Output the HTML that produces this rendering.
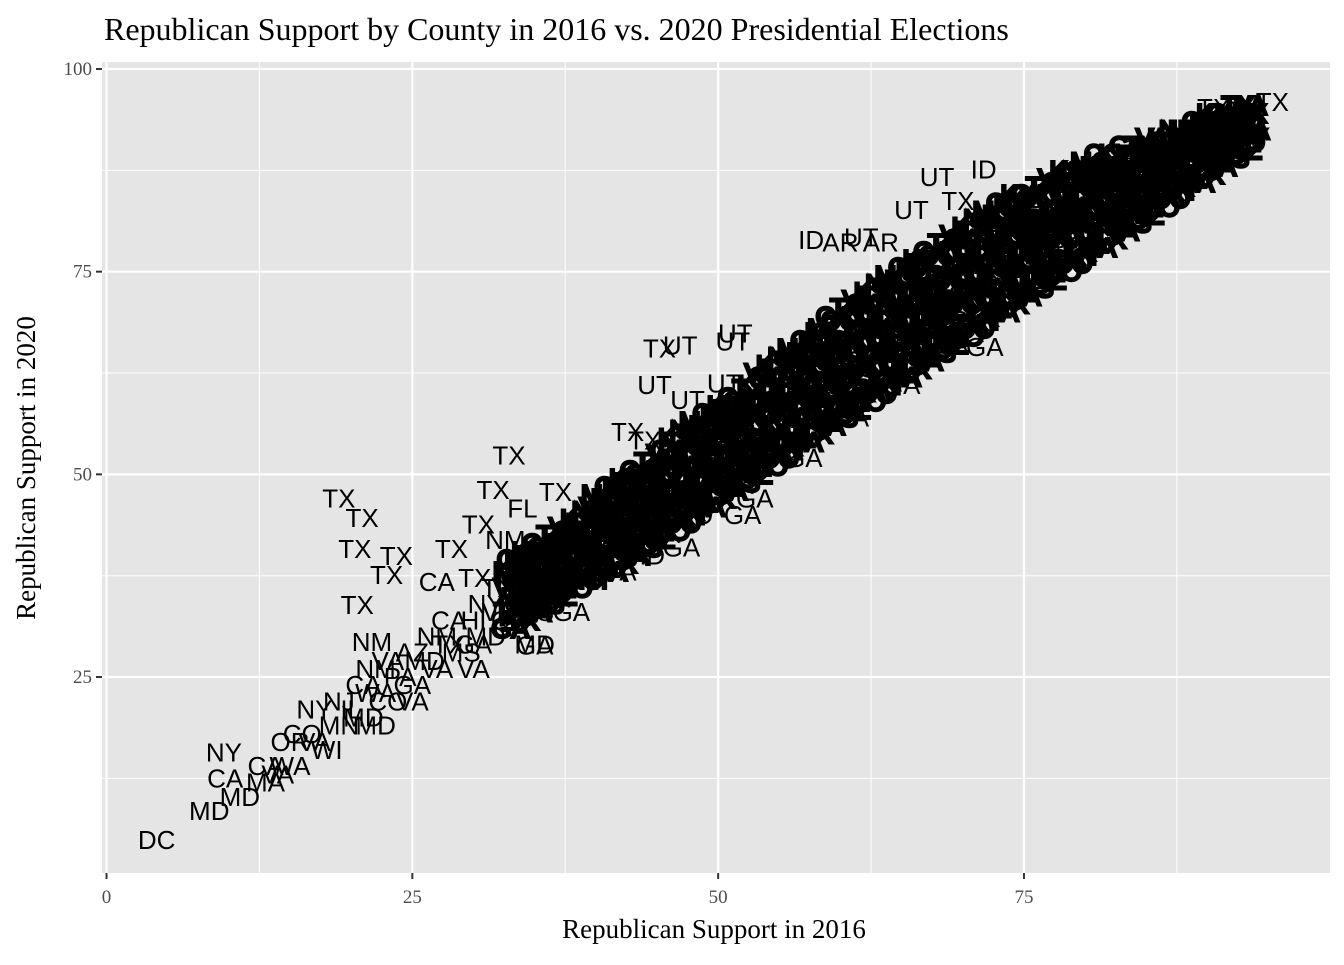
<!DOCTYPE html>
<html><head><meta charset="utf-8"><style>
body{margin:0;background:#fff}
svg text{font-family:"Liberation Sans",sans-serif}
</style></head><body>
<svg id="chart" width="1344" height="960" xmlns="http://www.w3.org/2000/svg">
<text x="104" y="40" font-size="32" fill="#000" style="font-family:'Liberation Serif',serif">Republican Support by County in 2016 vs. 2020 Presidential Elections</text>
<rect x="102" y="62" width="1228" height="811" fill="#e5e5e5"/>
<g id="grid"></g>
<g id="ticks"></g>
<g id="points"></g>
<text x="714" y="938" text-anchor="middle" font-size="27" style="font-family:'Liberation Serif',serif">Republican Support in 2016</text>
<text transform="translate(35,468) rotate(-90)" text-anchor="middle" font-size="27" style="font-family:'Liberation Serif',serif">Republican Support in 2020</text>
</svg>
<script>
const xTicks=[0,25,50,75];
const yTicks=[25,50,75,100];
const x2016=[4.1,8.4,9.6,9.7,10.9,19,20.9,20.3,23.7,22.9,20.5,28.2,32.9,31.6,36.7,30.4,30.1,42.6,44,45.2,34,32.6,27,21.7,46.9,51.4,51.2,44.8,47.5,50.5,67.9,71.7,65.8,69.6,57.6,60,63.3,61.7,95.3,90.5,93.2,35,71.8,
13,13,14,15,15,16,17,17,18,19,19,20,21,21,22,22,23,23,24,25,25,26,27,27,28,28,29,30,30,31,31,32,32,33,33,34,34,35,35,36,36,37,37,38,38,39,39,40,40,41,41,42,42,43,43,44,44,45,45,46,46,47,47,48,48,49,49,50,50,51,51,52,52,53,53,54,54,55,55,56,56,57,57,58,58,59,59,60,60,61,61,62,62,63,63,64,64,65,65,66,66,67,67,68,68,69,69,70,70,71,71,72,72,73,73,74,74,75,75,76,76,77,77,78,78,79,79,80,80,81,81,82,82,83,83,84,84,85,85,86,86,87,87,88,88,89,89,90,90,91,92,93,
42,47,53,57,61,65,69,73,78,83,48,38,35,30,25,22,52,63,75,88,44,50];
const y2020=[4.9,8.5,15.7,12.5,10.2,47,44.6,40.8,39.9,37.6,33.9,40.8,52.3,48.1,47.8,43.8,37.2,55.2,54.2,65.5,45.8,41.9,36.7,29.3,65.9,67.4,66.4,61,59.2,61.2,86.7,87.6,82.6,83.7,78.9,78.6,78.6,79.2,95.9,95.2,94.9,28.9,65.7,
14,12,13,17,14,18,17,21,16,19,22,21,24,20,26,23,22,27,25,28,24,27,30,26,29,32,28,32,29,34,30,33,36,32,35,34,37,36,33,38,35,40,36,39,42,38,41,43,40,42,45,44,41,46,43,45,48,47,44,49,46,48,51,50,47,52,49,51,55,53,50,54,57,55,52,57,60,56,53,58,61,60,56,61,63,62,58,63,66,64,60,65,68,66,62,68,65,69,66,70,67,71,68,72,69,74,70,75,72,76,73,78,74,79,75,80,76,80,77,81,78,82,79,83,80,84,81,85,82,86,83,87,84,87,85,88,85,89,86,89,87,90,88,90,91,91,89,92,90,91,93,92,
38,41,47,52,57,61,66,71,77,82,45,33,29,26,22,19,45,60,74,86,40,46];
const states=["DC","MD","NY","CA","MD","TX","TX","TX","TX","TX","TX","TX","TX","TX","TX","TX","TX","TX","TX","TX","FL","NM","CA","NM","UT","UT","UT","UT","UT","UT","UT","ID","UT","TX","ID","AR","AR","UT","TX","TX","TX","GA","GA",
"CA","MA","VA","OR","WA","CO","VA","NY","WI","MN","NJ","IL","CA","MD","NM","WA","CO","VA","PA","AZ","GA","MD","NM","VA","TX","CA","MS","HI","GA","NY","MD","VA","TX","CO","IL","GA","MN","WA","MS","OR","VA","NM","GA","CA","TX","CO","NC","NY","VA","PA","ID","GA","CO","NM","OH","MI","WI","GA","VA","TX","MD","CO","NC","IA","GA","PA","OH","GA","TX","MI","VA","WI","NM","MN","GA","IA","TX","OH","CO","PA","ID","NC","GA","MO","TX","KY","VA","IN","NE","OK","GA","KS","TX","MO","SC","ID","AL","UT","GA","TX","MS","KY","LA","OK","GA","TX","KS","ID","AR","NE","TN","UT","MO","TX","KS","IN","OK","WV","GA","KY","TN","TX","MO","NE","KS","MT","AL","TX","ND","OK","KY","WY","TX","NE","SD","TX","KS","TX","OK","MT","TX","NE","KY","WV","TX","KS","TX","NE","TX","MT","NE",
"CO","VA","GA","GA","GA","VA","GA","CA","TX","NE","VA","CO","GA","MD","VA","VA","MD","GA","KS","NE","GA","MD"];
const denseX=[33,34,35,36,37,38,39,40,41,42,43,44,45,46,47,48,49,50,51,52,53,54,55,56,57,58,59,60,61,62,63,64,65,66,67,68,69,70,71,72,73,74,75,76,77,78,79,80,81,82,83,84,85,86,87,88,89,90,91,92,93];
const denseY=[[31,33,36,38],[32,34,37,39],[33,35,38,40],[34,36,39,41],[35,37,40,42],[36,38,41,43],[37,39,42,44],[37,40,43,46],[38,41,44,47],[39,42,45,48],[40,43,46,49],[41,44,47,50],[42,45,48,51],[43,46,50,53],[44,47,51,54],[45,48,52,55],[46,49,53,56],[47,50,54,57],[48,51,55,58],[49,52,56,59],[50,53,57,61],[51,54,58,62],[52,56,59,63],[53,57,60,64],[54,58,62,65],[55,59,63,66],[56,60,64,68],[57,61,65,69],[58,62,66,70],[59,63,67,71],[60,64,68,72],[61,65,69,73],[62,66,70,74],[63,67,71,75],[64,68,72,76],[65,69,73,77],[66,70,74,78],[67,71,75,79],[68,72,76,80],[69,73,77,81],[70,74,78,82],[71,75,79,83],[72,76,80,83],[73,77,80,84],[74,78,81,85],[75,79,82,86],[76,80,83,86],[77,81,84,87],[78,82,85,88],[79,82,85,88],[80,83,86,89],[81,84,87,89],[82,85,87,90],[83,86,88,90],[84,86,89,91],[85,87,89,91],[86,88,90,92],[87,89,91,93],[88,90,92,93],[89,91,92,94],[90,91,93,94]];
const denseStates=["GA","TX","VA","KS","NE","MO","CO","KY"];
const NS="http://www.w3.org/2000/svg";
const xs=v=>106.5+v*12.233, ys=v=>879.7-v*8.107;
const grid=document.getElementById('grid'),ticks=document.getElementById('ticks'),pts=document.getElementById('points');
function line(g,x1,y1,x2,y2,c,w){const l=document.createElementNS(NS,'line');l.setAttribute('x1',x1);l.setAttribute('y1',y1);l.setAttribute('x2',x2);l.setAttribute('y2',y2);l.setAttribute('stroke',c);l.setAttribute('stroke-width',w);g.appendChild(l);return l;}
[12.5,37.5,62.5,87.5].forEach(v=>{const a=line(grid,xs(v),62,xs(v),873,'#fff',1);


const b=line(grid,102,ys(v),1330,ys(v),'#fff',1);

});
xTicks.forEach(v=>{const l=line(grid,xs(v),62,xs(v),873,'#fff',2.2);


line(ticks,xs(v),873,xs(v),879,'#333',2);
const t=document.createElementNS(NS,'text');t.setAttribute('x',xs(v));t.setAttribute('y',903);t.setAttribute('text-anchor','middle');t.setAttribute('font-size','19');t.setAttribute('fill','#4d4d4d');t.style.fontFamily="'Liberation Serif',serif";t.textContent=v;


ticks.appendChild(t);});
yTicks.forEach(v=>{const l=line(grid,102,ys(v),1330,ys(v),'#fff',2.2);


line(ticks,96,ys(v),102,ys(v),'#333',2);
const t=document.createElementNS(NS,'text');t.setAttribute('x',92);t.setAttribute('y',ys(v)+6);t.setAttribute('text-anchor','end');t.setAttribute('font-size','19');t.setAttribute('fill','#4d4d4d');t.style.fontFamily="'Liberation Serif',serif";t.textContent=v;


ticks.appendChild(t);});
function addLabel(x,y,s,heavy){const t=document.createElementNS(NS,'text');t.setAttribute('x',xs(x));t.setAttribute('y',ys(y)+9);t.setAttribute('text-anchor','middle');t.setAttribute('font-size','26');t.setAttribute('fill','#000');
if(heavy){t.setAttribute('stroke','#000');t.setAttribute('stroke-width','3');}
t.textContent=s;


pts.appendChild(t);}
states.forEach((s,i)=>addLabel(x2016[i],y2020[i],s,false));
denseX.forEach((x,i)=>denseY[i].forEach((y,j)=>{addLabel(x,y,denseStates[(i+j)%denseStates.length],true);addLabel(x+0.5,y+1.5,denseStates[(i+j+3)%denseStates.length],true);}));
</script>
</body></html>
